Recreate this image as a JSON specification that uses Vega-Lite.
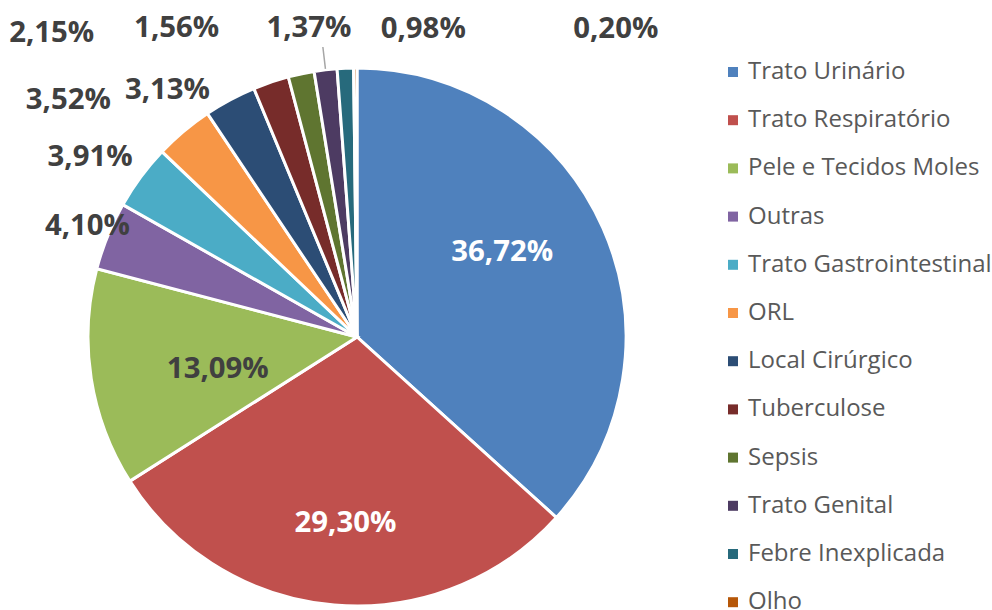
{
  "$schema": "https://vega.github.io/schema/vega-lite/v6.json",
  "width": 992,
  "height": 610,
  "autosize": "none",
  "padding": 0,
  "background": "white",
  "config": {
    "view": {"stroke": null},
    "font": "Open Sans",
    "text": {"font": "Open Sans", "fontWeight": "bold", "fontSize": 29.33, "baseline": "middle", "align": "center", "fill": "#404040"}
  },
  "data": {
    "values": [
      {"cat": "Trato Urinário", "value": 36.72, "label": "36,72%", "idx": 1},
      {"cat": "Trato Respiratório", "value": 29.30, "label": "29,30%", "idx": 2},
      {"cat": "Pele e Tecidos Moles", "value": 13.09, "label": "13,09%", "idx": 3},
      {"cat": "Outras", "value": 4.10, "label": "4,10%", "idx": 4},
      {"cat": "Trato Gastrointestinal", "value": 3.91, "label": "3,91%", "idx": 5},
      {"cat": "ORL", "value": 3.52, "label": "3,52%", "idx": 6},
      {"cat": "Local Cirúrgico", "value": 3.13, "label": "3,13%", "idx": 7},
      {"cat": "Tuberculose", "value": 2.15, "label": "2,15%", "idx": 8},
      {"cat": "Sepsis", "value": 1.56, "label": "1,56%", "idx": 9},
      {"cat": "Trato Genital", "value": 1.37, "label": "1,37%", "idx": 10},
      {"cat": "Febre Inexplicada", "value": 0.98, "label": "0,98%", "idx": 11},
      {"cat": "Olho", "value": 0.20, "label": "0,20%", "idx": 12}
    ]
  },
  "encoding": {
    "theta": {"field": "value", "type": "quantitative", "stack": true},
    "order": {"field": "idx", "type": "quantitative", "sort": "ascending"},
    "x": {"value": 357},
    "y": {"value": 337}
  },
  "layer": [
    {
      "mark": {"type": "arc", "outerRadius": 269, "stroke": "white", "strokeWidth": 3},
      "encoding": {
        "color": {
          "field": "cat",
          "type": "nominal",
          "scale": {
            "domain": ["Trato Urinário", "Trato Respiratório", "Pele e Tecidos Moles", "Outras", "Trato Gastrointestinal", "ORL", "Local Cirúrgico", "Tuberculose", "Sepsis", "Trato Genital", "Febre Inexplicada", "Olho"],
            "range": ["#4F81BD", "#C0504D", "#9BBB59", "#8064A2", "#4BACC6", "#F79646", "#2C4D75", "#772C2A", "#5F7530", "#4D3B62", "#276A7C", "#B65708"]
          },
          "legend": {
            "orient": "none",
            "legendX": 721,
            "legendY": 60,
            "title": null,
            "symbolType": "square",
            "symbolSize": 100,
            "symbolStrokeWidth": 0,
            "labelFontSize": 24,
            "labelFont": "Open Sans",
            "labelColor": "#595959",
            "rowPadding": 24.2,
            "labelOffset": 3,
            "padding": 0,
            "labelLimit": 400
          }
        }
      }
    },
    {
      "mark": {"type": "arc", "innerRadius": 270, "outerRadius": 292, "padAngle": 3, "fill": null, "stroke": "#A6A6A6", "strokeWidth": 1.5},
      "encoding": {
        "detail": {"field": "cat"},
        "strokeOpacity": {"condition": {"test": "datum.cat === 'Trato Genital'", "value": 1}, "value": 0}
      }
    },
    {
      "mark": {"type": "text", "radius": 168, "dx": -8.4, "dy": -16.4, "fill": "white"},
      "encoding": {"detail": {"field": "cat"}, "text": {"condition": {"test": "datum.cat === 'Trato Urinário'", "field": "label"}, "value": ""}}
    },
    {
      "mark": {"type": "text", "radius": 186, "dx": 4.3, "dy": 0.7, "fill": "white"},
      "encoding": {"detail": {"field": "cat"}, "text": {"condition": {"test": "datum.cat === 'Trato Respiratório'", "field": "label"}, "value": ""}}
    },
    {
      "mark": {"type": "text", "radius": 143, "dx": 2.1, "dy": 10},
      "encoding": {"detail": {"field": "cat"}, "text": {"condition": {"test": "datum.cat === 'Pele e Tecidos Moles'", "field": "label"}, "value": ""}}
    },
    {
      "mark": {"type": "text", "radius": 291.5, "dx": 0.6, "dy": -1.4},
      "encoding": {"detail": {"field": "cat"}, "text": {"condition": {"test": "datum.cat === 'Outras'", "field": "label"}, "value": ""}}
    },
    {
      "mark": {"type": "text", "radius": 322, "dx": -8.1, "dy": 11.5},
      "encoding": {"detail": {"field": "cat"}, "text": {"condition": {"test": "datum.cat === 'Trato Gastrointestinal'", "field": "label"}, "value": ""}}
    },
    {
      "mark": {"type": "text", "radius": 373.6, "dx": -47.9, "dy": 48.5},
      "encoding": {"detail": {"field": "cat"}, "text": {"condition": {"test": "datum.cat === 'ORL'", "field": "label"}, "value": ""}}
    },
    {
      "mark": {"type": "text", "radius": 311.5, "dx": -42.5, "dy": 27.4},
      "encoding": {"detail": {"field": "cat"}, "text": {"condition": {"test": "datum.cat === 'Local Cirúrgico'", "field": "label"}, "value": ""}}
    },
    {
      "mark": {"type": "text", "radius": 431, "dx": -167.4, "dy": 104},
      "encoding": {"detail": {"field": "cat"}, "text": {"condition": {"test": "datum.cat === 'Tuberculose'", "field": "label"}, "value": ""}}
    },
    {
      "mark": {"type": "text", "radius": 357.5, "dx": -106.1, "dy": 41},
      "encoding": {"detail": {"field": "cat"}, "text": {"condition": {"test": "datum.cat === 'Sepsis'", "field": "label"}, "value": ""}}
    },
    {
      "mark": {"type": "text", "radius": 312.4, "dx": -11.5, "dy": 1.5},
      "encoding": {"detail": {"field": "cat"}, "text": {"condition": {"test": "datum.cat === 'Trato Genital'", "field": "label"}, "value": ""}}
    },
    {
      "mark": {"type": "text", "radius": 315, "dx": 79.9, "dy": 6.7},
      "encoding": {"detail": {"field": "cat"}, "text": {"condition": {"test": "datum.cat === 'Febre Inexplicada'", "field": "label"}, "value": ""}}
    },
    {
      "mark": {"type": "text", "radius": 402.3, "dx": 261.3, "dy": 94.3},
      "encoding": {"detail": {"field": "cat"}, "text": {"condition": {"test": "datum.cat === 'Olho'", "field": "label"}, "value": ""}}
    }
  ]
}
